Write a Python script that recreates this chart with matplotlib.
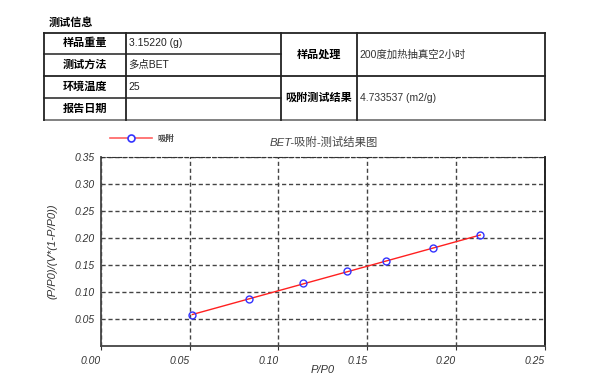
import numpy as np
import matplotlib.pyplot as plt

plt.rcParams['font.family'] = ['Liberation Sans', 'Noto Sans CJK SC', 'DejaVu Sans']

# data
pp0 = [0.0516, 0.0835, 0.1137, 0.1387, 0.1605, 0.1871, 0.2136]
bet_y = [0.0574, 0.0876, 0.1161, 0.1383, 0.1574, 0.1820, 0.2050]
x_ticks = [0.00, 0.05, 0.10, 0.15, 0.20, 0.25]
y_ticks = [0.05, 0.10, 0.15, 0.20, 0.25, 0.30, 0.35]

left_labels = ['样品重量', '测试方法', '环境温度', '报告日期']
left_values = ['3.15220 (g)', '多点BET', '25', '']
right_labels = ['样品处理', '吸附测试结果']
right_values = ['200度加热抽真空2小时', '4.733537 (m2/g)']

W, H = 609, 375
fig = plt.figure(figsize=(W / 100, H / 100), dpi=100)

# table drawn on a pixel overlay
ov = fig.add_axes([0, 0, 1, 1])
ov.set_xlim(0, W)
ov.set_ylim(H, 0)
ov.axis('off')

x0, x1, x2, x3, x4 = 43.5, 125.7, 280.7, 356.7, 545.3
rows = [32.7, 53.8, 75.7, 97.5, 119.5]
lc = '#222222'
for y in [rows[0], rows[2]]:
    ov.plot([x0, x4], [y, y], color=lc, lw=1.3)
ov.plot([x0, x4], [rows[4], rows[4]], color='#777777', lw=1.3)
for y in [rows[1], rows[3]]:
    ov.plot([x0, x2], [y, y], color=lc, lw=1.1)
for x in [x0, x1, x2, x3, x4]:
    ov.plot([x, x], [rows[0], rows[4]], color=lc, lw=1.3)

ov.text(49, 23, '测试信息', fontsize=8, fontweight='bold', va='center', ha='left')
for i, (lab, val) in enumerate(zip(left_labels, left_values)):
    yc = (rows[i] + rows[i + 1]) / 2
    ov.text((x0 + x1) / 2, yc, lab, fontsize=8, fontweight='bold', ha='center', va='center')
    ov.text(x1 + 3, yc, val, fontsize=7.5, ha='left', va='center', color='#222222')
for i, (lab, val) in enumerate(zip(right_labels, right_values)):
    yc = (rows[2 * i] + rows[2 * i + 2]) / 2
    ov.text((x2 + x3) / 2, yc, lab, fontsize=8, fontweight='bold', ha='center', va='center')
    ov.text(x3 + 3, yc, val, fontsize=7.5, ha='left', va='center', color='#333333')

# chart
al, ar, at, ab = 100.7, 545.0, 157.3, 346.0
ax = fig.add_axes([al / W, 1 - ab / H, (ar - al) / W, (ab - at) / H])

k, b = np.polyfit(pp0, bet_y, 1)
xs = np.array([pp0[0], pp0[-1]])
ax.plot(xs, k * xs + b, color='#ff2020', lw=1)
ax.plot(pp0, bet_y, 'o', mfc='none', mec='#3333ff', ms=5, mew=1)

ax.set_xlim(0, 0.25)
ax.set_ylim(0, 0.35)
ax.set_xticks(x_ticks)
ax.set_yticks(y_ticks)
ax.set_xticklabels(['%.2f' % v for v in x_ticks], fontsize=7.5, style='italic',
                   color='#333333', ha='right')
ax.set_yticklabels(['%.2f' % v for v in y_ticks], fontsize=7.5, style='italic',
                   color='#333333')
ax.tick_params(axis='x', length=3, pad=4, color='#333333')
ax.tick_params(axis='y', length=0, pad=4)
ax.grid(True, color='#444444', ls=(0, (3, 2)), lw=1)

ax.spines['top'].set_linestyle((0, (3, 2)))
ax.spines['top'].set_color('#333333')
ax.spines['left'].set_linestyle((0, (3, 1)))
ax.spines['left'].set_color('#444444')
ax.spines['left'].set_linewidth(1.3)
ax.spines['bottom'].set_color('#444444')
ax.spines['bottom'].set_linewidth(1.3)
ax.spines['right'].set_color('#111111')
ax.spines['right'].set_linewidth(1.3)

fig.text(323 / W, 1 - 370 / H, 'P/P0', fontsize=8, style='italic', color='#333333',
         ha='center', va='center')
fig.text(52 / W, 1 - 251 / H, '(P/P0)/(V*(1-P/P0))', fontsize=8, style='italic',
         color='#333333', ha='center', va='center', rotation=90)
fig.text(323.5 / W, 1 - 142 / H, 'BET-吸附-测试结果图', fontsize=8.2, style='italic',
         color='#444444', ha='center', va='center')

# legend
ov.plot([110, 152], [138.3, 138.3], color='#ff6060', lw=1.2)
ov.plot([131], [138.3], 'o', mfc='white', mec='#3333ff', ms=5, mew=1.2)
ov.text(157, 138.3, '吸附', fontsize=6, fontweight='bold', color='#444444', va='center')

fig.savefig('out.png', dpi=100)
